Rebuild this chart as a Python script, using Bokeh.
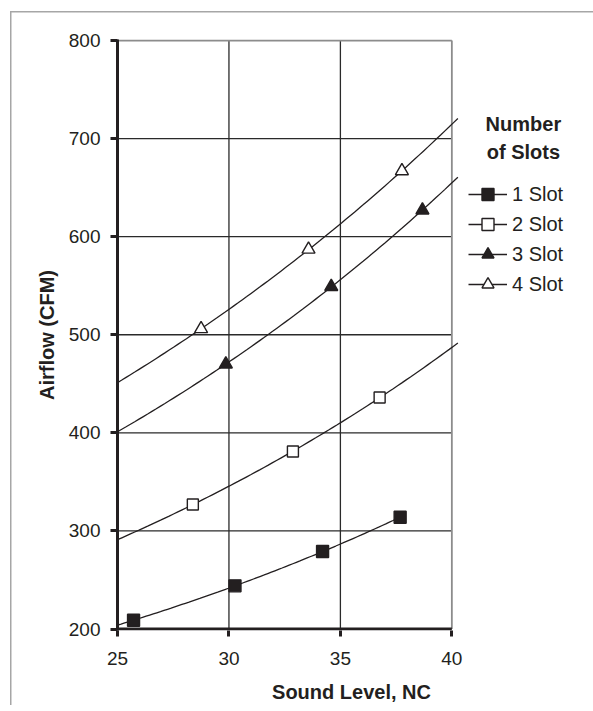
import numpy as np
from bokeh.plotting import figure
from bokeh.models import (Range1d, FixedTicker, Legend, LegendItem, Label)
from bokeh.embed import file_html
from bokeh.resources import INLINE

# ---------------- data ----------------
X_TICKS = [25, 30, 35, 40]
Y_TICKS = [200, 300, 400, 500, 600, 700, 800]

SERIES = ["1 Slot", "2 Slot", "3 Slot", "4 Slot"]
NC_1 = [25.72, 30.27, 34.20, 37.68]
CFM_1 = [209, 244, 279, 314]
NC_2 = [28.38, 32.87, 36.76]
CFM_2 = [327, 381, 436]
NC_3 = [29.86, 34.59, 38.68]
CFM_3 = [470, 549, 627]
NC_4 = [28.75, 33.57, 37.76]
CFM_4 = [506, 587, 667]
TREND_FROM = [25, 25, 25, 25]
TREND_TO = [37.68, 40.27, 40.27, 40.27]

X_LABEL = "Sound Level, NC"
Y_LABEL = "Airflow (CFM)"
LEGEND_TITLE = "Number\nof Slots"

# ---------------- styling ----------------
INK = "#231f20"
GRID = "#2a2a2a"
BORDER = "#8c8c8c"
FONT = "Liberation Sans"

PX_X = 22.29      # px per NC unit
FRAME_W = 468
FRAME_H = 591
X0 = 25
X1 = X0 + FRAME_W / PX_X
Y0, Y1 = 198.5, 801

p = figure(frame_width=FRAME_W, frame_height=FRAME_H,
           x_range=Range1d(X0, X1), y_range=Range1d(Y0, Y1),
           output_backend="svg", toolbar_location=None,
           min_border_left=117, min_border_right=8,
           min_border_top=39, min_border_bottom=73)
p.outline_line_color = None
p.xgrid.visible = False
p.ygrid.visible = False
p.background_fill_color = None
p.border_fill_color = None
# light-grey outer frame (top and left edges) behind the transparent canvas
p.styles = {
    "background": "linear-gradient(#a6a6a6, #a6a6a6) 10px 11px / 1.5px 2000px no-repeat, "
                  "linear-gradient(#a6a6a6, #a6a6a6) 10px 11px / 2000px 1.5px no-repeat, #ffffff"
}

xmin, xmax = X_TICKS[0], X_TICKS[-1]
ymin, ymax = Y_TICKS[0], Y_TICKS[-1]
inner_y = Y_TICKS[1:-1]
inner_x = X_TICKS[1:-1]

# gridlines
p.segment(x0=[xmin] * len(inner_y), x1=[xmax] * len(inner_y), y0=inner_y, y1=inner_y,
          line_color=GRID, line_width=1.3)
p.segment(x0=inner_x, x1=inner_x, y0=[ymin] * len(inner_x), y1=[ymax] * len(inner_x),
          line_color=GRID, line_width=1.3)
# plot-area border (top & right)
p.segment(x0=[xmin, xmax], x1=[xmax, xmax], y0=[ymax, ymin], y1=[ymax, ymax],
          line_color=BORDER, line_width=1.8)

# series
data = [(NC_1, CFM_1), (NC_2, CFM_2), (NC_3, CFM_3), (NC_4, CFM_4)]
markers = ["square", "square", "triangle", "triangle"]
fills = [INK, "white", INK, "white"]
sizes = [12, 11, 13, 13]

items = []
for i, (xs, ys) in enumerate(data):
    b, a = np.polyfit(np.array(xs, float), np.log(np.array(ys, float)), 1)
    tx = np.linspace(TREND_FROM[i], TREND_TO[i], 80)
    ty = np.exp(a + b * tx)
    lr = p.line(tx, ty, line_color=INK, line_width=1.3)
    sr = p.scatter(xs, ys, marker=markers[i], size=sizes[i], fill_color=fills[i],
                   line_color=INK, line_width=1.4)
    items.append(LegendItem(label=SERIES[i], renderers=[lr, sr]))

# bottom axis line
p.segment(x0=[xmin], x1=[xmax], y0=[ymin], y1=[ymin], line_color=INK, line_width=3)

# axes
xa = p.xaxis[0]
xa.ticker = FixedTicker(ticks=X_TICKS)
xa.axis_line_color = None
xa.major_tick_in = 0
xa.major_tick_out = 6
xa.major_tick_line_width = 3
xa.major_tick_line_color = INK
xa.minor_tick_line_color = None
xa.major_label_text_font = FONT
xa.major_label_text_font_size = "19px"
xa.major_label_text_color = INK
xa.major_label_standoff = 15
xa.axis_label = X_LABEL
xa.axis_label_text_font = FONT
xa.axis_label_text_font_size = "20px"
xa.axis_label_text_font_style = "bold"
xa.axis_label_text_color = INK
xa.axis_label_standoff = 13

ya = p.yaxis[0]
ya.ticker = FixedTicker(ticks=Y_TICKS)
ya.axis_line_color = INK
ya.axis_line_width = 3
ya.major_tick_in = 0
ya.major_tick_out = 7
ya.major_tick_line_width = 3
ya.major_tick_line_color = INK
ya.minor_tick_line_color = None
ya.major_label_text_font = FONT
ya.major_label_text_font_size = "19px"
ya.major_label_text_color = INK
ya.major_label_standoff = 10
ya.axis_label = Y_LABEL
ya.axis_label_text_font = FONT
ya.axis_label_text_font_size = "20px"
ya.axis_label_text_font_style = "bold"
ya.axis_label_text_color = INK
ya.axis_label_standoff = 8

legend = Legend(items=items, location=(351, 331), glyph_width=39, glyph_height=30,
                label_height=20, spacing=0, padding=0, margin=0, label_standoff=5,
                border_line_color=None, background_fill_alpha=0,
                label_text_font=FONT, label_text_font_size="20px",
                label_text_color=INK)
p.add_layout(legend)

p.add_layout(Label(x=43.21, y=725.6, text=LEGEND_TITLE, text_align="center",
                   text_baseline="top", text_font=FONT, text_font_size="20px",
                   text_font_style="bold", text_line_height=1.25, text_color=INK))

open("out.html", "w").write(file_html(p, INLINE))
